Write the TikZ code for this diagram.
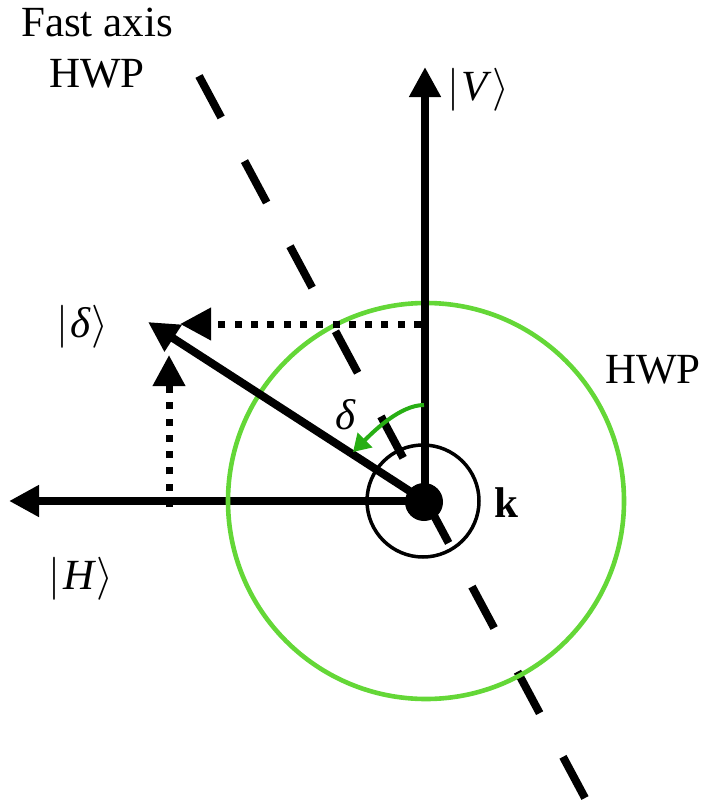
\documentclass[tikz,border=0pt]{standalone}
\usepackage{fontspec}
\setmainfont{Liberation Serif}
\usetikzlibrary{arrows.meta}
\definecolor{hwpgreen}{RGB}{100,215,55}
\definecolor{arcgreen}{RGB}{40,175,20}
\begin{document}
\begin{tikzpicture}[x=1pt,y=-1pt,
  vec/.style={line width=8pt,-{Triangle[length=30pt,width=30pt]}},
  dotvec/.style={line width=7pt,dash pattern=on 7pt off 9.3pt,-{Triangle[length=31pt,width=31pt]}},
  axisline/.style={line width=8pt,dash pattern=on 47pt off 49.5pt},
  lbl/.style={inner sep=0pt,scale=4.3,font=\fontsize{10}{11.86}\selectfont},
  arcvec/.style={arcgreen,line width=4pt,-{Triangle[length=17pt,width=20pt]}}]
\useasboundingbox (0,0) rectangle (701,808);
% key points
\coordinate (c) at (425,501);
\coordinate (Vtip) at (425,67);
\coordinate (Htip) at (9,501);
\coordinate (Dtip) at (148,322);
\coordinate (axA) at (199,76);
\coordinate (axB) at (585,798);
\coordinate (hdotS) at (421,324);
\coordinate (hdotE) at (180,324);
\coordinate (vdotS) at (169,507);
\coordinate (vdotE) at (169,355);
\coordinate (arcS) at (424,405);
\coordinate (arcE) at (353,452);
% fast axis
\draw[axisline] (axA) -- (axB);
% |H> axis
\draw[vec] (c) -- (Htip);
% HWP circle
\draw[hwpgreen,line width=4.6pt] (426,501) circle[radius=198pt];
% |V> axis
\draw[vec] (c) -- (Vtip);
% |delta> vector
\draw[vec] (c) -- (Dtip);
% projections
\draw[dotvec] (hdotS) -- (hdotE);
\draw[dotvec] (vdotS) -- (vdotE);
% beam
\draw[line width=3.5pt] (423,501) circle[radius=56pt];
\fill (424,502) circle[radius=19pt];
% rotation angle
\draw[arcvec] (arcS) .. controls (400,405) and (373,432) .. (arcE);
% labels
\node[lbl,anchor=north,align=center] (fast) at (97,7) {Fast axis\\HWP};
\node[lbl,anchor=base] (Vl) at (478,100) {$|$\kern0.6pt\textit{V}$\rangle$};
\node[lbl,anchor=base] (Hl) at (81,589) {$|$\kern0.6pt\textit{H}$\rangle$};
\node[lbl,anchor=base] (Dl) at (82,337) {$|$\kern0.6pt\textit{δ}$\rangle$};
\node[lbl] (dl) at (346,415) {\textit{δ}};
\node[lbl,anchor=base] (kl) at (506,517) {\textbf{k}};
\node[lbl,anchor=base] (hwp) at (653,383) {HWP};
\end{tikzpicture}
\end{document}
